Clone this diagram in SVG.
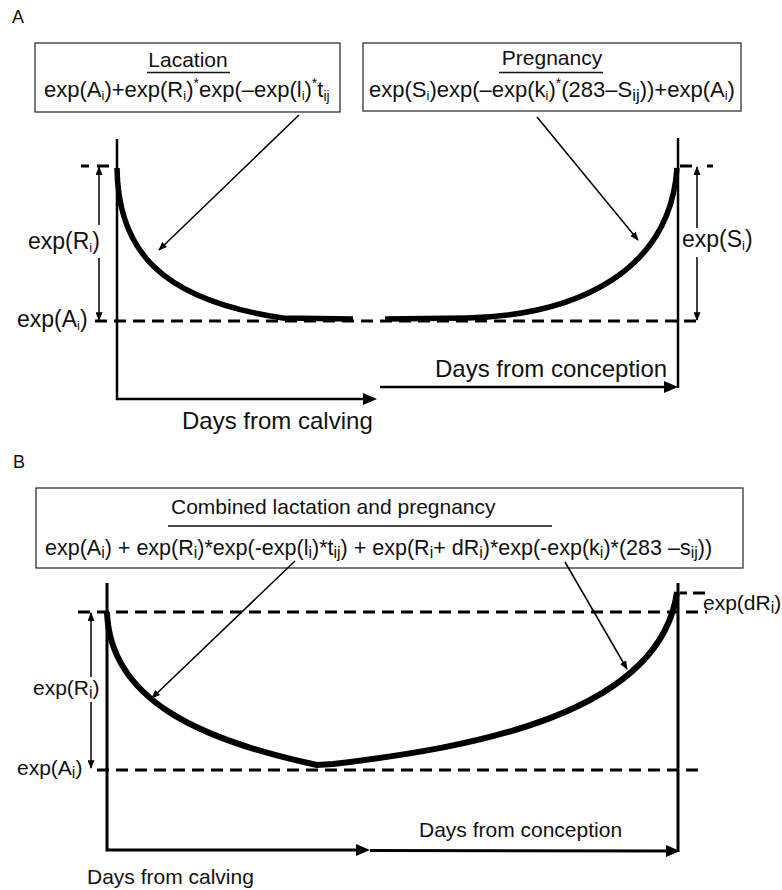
<svg xmlns="http://www.w3.org/2000/svg" width="782" height="890" viewBox="0 0 782 890">
<style>
text{font-family:"Liberation Sans",Arial,sans-serif;fill:#111;}
.box{fill:#fff;stroke:#333;stroke-width:1.3;}
.ul{stroke:#111;stroke-width:1.3;}
.ax{fill:none;stroke:#000;stroke-width:2.5;}
.axB{fill:none;stroke:#000;stroke-width:3;}
.dash{fill:none;stroke:#000;stroke-width:3;stroke-dasharray:12 7;}
.dsh{fill:none;stroke:#000;stroke-width:3;}
.curve{fill:none;stroke:#000;stroke-width:5.5;}
.curveB{fill:none;stroke:#000;stroke-width:6;}
.thin{fill:none;stroke:#000;stroke-width:1.5;}
</style>
<defs>
<marker id="ahS" viewBox="0 0 10 8" refX="9" refY="4" markerWidth="9" markerHeight="7" markerUnits="userSpaceOnUse" orient="auto"><path d="M0,0 L10,4 L0,8 z" fill="#000"/></marker>
<marker id="ahL" viewBox="0 0 14 12" refX="3" refY="6" markerWidth="14" markerHeight="12" markerUnits="userSpaceOnUse" orient="auto"><path d="M0,0 L14,6 L0,12 z" fill="#000"/></marker>
</defs>
<rect width="782" height="890" fill="#fff"/>

<text x="12" y="23" font-size="18">A</text>
<text x="13" y="468" font-size="18">B</text>

<g id="lactation-box">
<rect class="box" x="35" y="43" width="305" height="69"/>
<text x="188" y="67" font-size="21" text-anchor="middle">Lacation</text>
<line class="ul" x1="147" y1="72.5" x2="230" y2="72.5"/>
<text x="44" y="97" font-size="22">exp(A<tspan font-size="13" dy="3">i</tspan><tspan dy="-3">)+exp(R</tspan><tspan font-size="13" dy="3">i</tspan><tspan dy="-3">)</tspan><tspan font-size="14" dy="-9">*</tspan><tspan dy="9">exp(–exp(l</tspan><tspan font-size="13" dy="3">i</tspan><tspan dy="-3">)</tspan><tspan font-size="14" dy="-9">*</tspan><tspan dy="9">t</tspan><tspan font-size="14" dy="4">ij</tspan></text>
</g>

<g id="pregnancy-box">
<rect class="box" x="363" y="43" width="378" height="68"/>
<text x="552" y="65" font-size="21" text-anchor="middle">Pregnancy</text>
<line class="ul" x1="499" y1="72.5" x2="603" y2="72.5"/>
<text x="369" y="97" font-size="22">exp(S<tspan font-size="13" dy="3">i</tspan><tspan dy="-3">)exp(–exp(k</tspan><tspan font-size="13" dy="3">i</tspan><tspan dy="-3">)</tspan><tspan font-size="14" dy="-9">*</tspan><tspan dy="9">(283–S</tspan><tspan font-size="17" dy="4">ij</tspan><tspan dy="-4">))+exp(A</tspan><tspan font-size="13" dy="3">i</tspan><tspan dy="-3">)</tspan></text>
</g>

<g id="panelA-plot">
<path class="ax" d="M117,139 L117,399 L366,399" marker-end="url(#ahL)"/>
<path class="ax" d="M380,387 L667,387" marker-end="url(#ahL)"/>
<path class="ax" d="M678,138 L678,388"/>
<path class="dash" d="M95,321 L700,321"/>
<path class="dsh" d="M81,166 h8 M97,166 h12"/>
<path class="dsh" d="M680,166 h12 M707,166 h6"/>
<path class="curve" d="M117,168 C118,250 160,300 283,318 L353,319"/>
<path class="curve" d="M385,319 L467,318 C580,315 670,270 677,168"/>
<path class="thin" d="M99,225 L99,167" marker-end="url(#ahS)"/>
<path class="thin" d="M99,258 L99,320" marker-end="url(#ahS)"/>
<path class="thin" d="M697,228 L697,167" marker-end="url(#ahS)"/>
<path class="thin" d="M697,257 L697,320" marker-end="url(#ahS)"/>
<text x="28" y="249" font-size="23">exp(R<tspan font-size="13" dy="3">i</tspan><tspan dy="-3">)</tspan></text>
<text x="17" y="327" font-size="23">exp(A<tspan font-size="13" dy="3">i</tspan><tspan dy="-3">)</tspan></text>
<text x="682" y="247" font-size="23">exp(S<tspan font-size="13" dy="3">i</tspan><tspan dy="-3">)</tspan></text>
<text x="435" y="377" font-size="24">Days from conception</text>
<text x="182" y="429" font-size="24">Days from calving</text>
</g>

<g id="combined-box">
<rect class="box" x="36" y="488" width="707" height="80"/>
<text x="171" y="514" font-size="21">Combined lactation and pregnancy</text>
<line class="ul" x1="168" y1="526" x2="552" y2="526"/>
<text x="45" y="555" font-size="21.5">exp(A<tspan font-size="16" dy="3">i</tspan><tspan dy="-3">) + exp(R</tspan><tspan font-size="16" dy="3">i</tspan><tspan dy="-3">)*exp(-exp(l</tspan><tspan font-size="16" dy="3">i</tspan><tspan dy="-3">)*t</tspan><tspan font-size="16" dy="3">ij</tspan><tspan dy="-3">) + exp(R</tspan><tspan font-size="16" dy="3">i</tspan><tspan dy="-3">+ dR</tspan><tspan font-size="16" dy="3">i</tspan><tspan dy="-3">)*exp(-exp(k</tspan><tspan font-size="16" dy="3">i</tspan><tspan dy="-3">)*(283 –s</tspan><tspan font-size="16" dy="3">ij</tspan><tspan dy="-3">))</tspan></text>
</g>

<g id="panelB-plot">
<path class="axB" d="M107,583 L107,850 L359,850" marker-end="url(#ahL)"/>
<path class="axB" d="M370,850.5 L669,851" marker-end="url(#ahL)"/>
<path class="axB" d="M678,583 L678,852"/>
<path class="dash" d="M78,612 L707,612"/>
<path class="dash" d="M97,770 L702,770"/>
<path class="dsh" d="M680,593 h7 M693,593 h12"/>
<path class="curveB" d="M107,612 C110,700 200,740 317,765 L333,764 C470,748 660,715 677,592"/>
<path class="thin" d="M91,677 L91,613" marker-end="url(#ahS)"/>
<path class="thin" d="M91,702 L91,768" marker-end="url(#ahS)"/>
<text x="33" y="695" font-size="21">exp(R<tspan font-size="16" dy="3">i</tspan><tspan dy="-3">)</tspan></text>
<text x="17" y="775" font-size="21">exp(A<tspan font-size="16" dy="3">i</tspan><tspan dy="-3">)</tspan></text>
<text x="703" y="610" font-size="21">exp(dR<tspan font-size="16" dy="3">i</tspan><tspan dy="-3">)</tspan></text>
<text x="419" y="837" font-size="21">Days from conception</text>
<text x="87" y="884" font-size="21">Days from calving</text>
</g>

<g id="connectors">
<path class="thin" d="M299,115 L159,250" marker-end="url(#ahS)"/>
<path class="thin" d="M537,117 L638,240" marker-end="url(#ahS)"/>
<path class="thin" d="M295,561 L152,698" marker-end="url(#ahS)"/>
<path class="thin" d="M565,562 L627,669" marker-end="url(#ahS)"/>
</g>
</svg>
